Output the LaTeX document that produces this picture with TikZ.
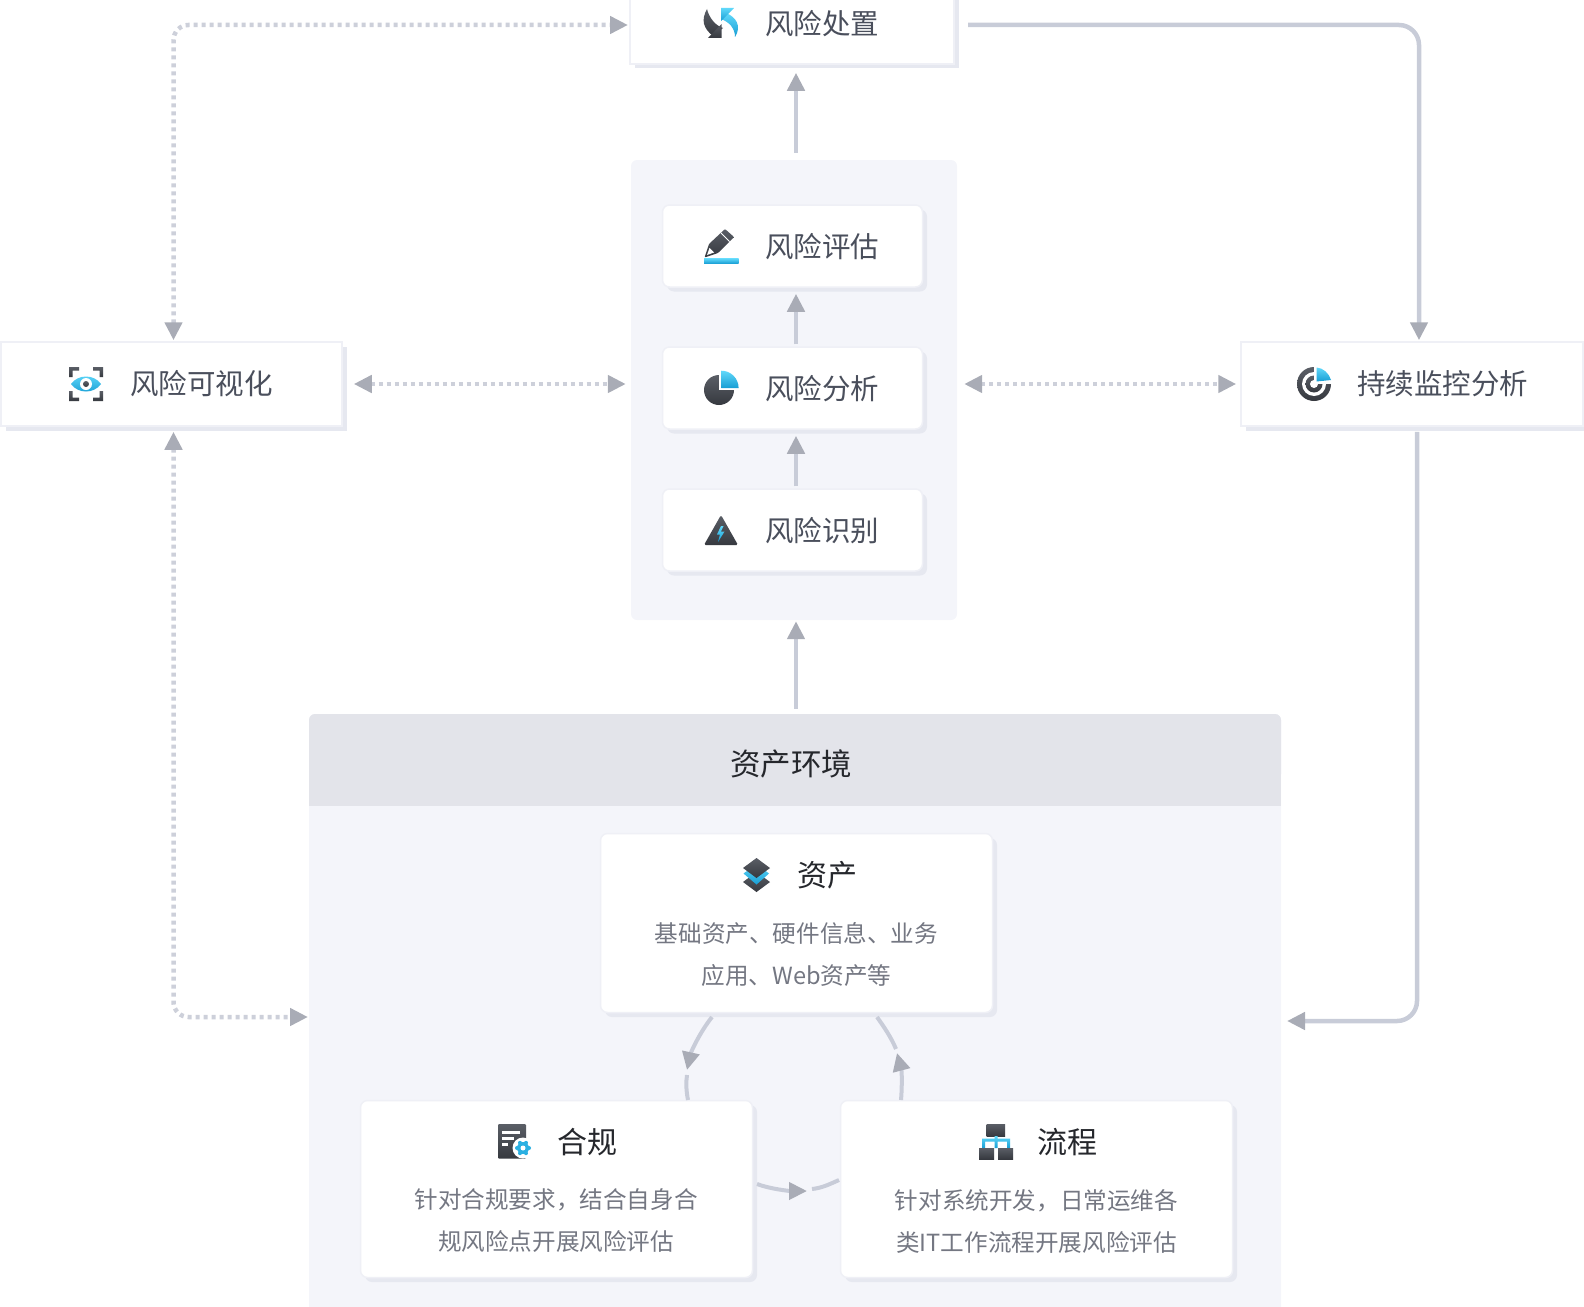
\documentclass[tikz,border=0pt]{standalone}
\usepackage{fontspec}
\setmainfont{Noto Sans CJK SC}
\usetikzlibrary{arrows.meta,shadows}

\definecolor{panelc}{HTML}{F4F5FA}
\definecolor{headerc}{HTML}{E3E4EA}
\definecolor{shadowc}{HTML}{E6E8F0}
\definecolor{edgec}{HTML}{EFF0F6}
\definecolor{linec}{HTML}{C8CCD8}
\definecolor{dotc}{HTML}{CDD0DA}
\definecolor{tipc}{HTML}{A9ACB6}
\definecolor{wordc}{HTML}{4A4F5C}
\definecolor{titlec}{HTML}{25272C}
\definecolor{descc}{HTML}{747782}
\definecolor{tipblue}{HTML}{2BB0E2}
\definecolor{dktop}{HTML}{5A5E66}
\definecolor{dkbot}{HTML}{36393F}
\definecolor{bltop}{HTML}{60D8FA}
\definecolor{blbot}{HTML}{189ED4}

\tikzset{
	headtip/.tip={Triangle[length=18pt,width=17pt,color=tipc]},
	dk/.style={top color=dktop,bottom color=dkbot,draw=none},
	bl/.style={top color=bltop,bottom color=blbot,draw=none},
	iconswap/.pic={
		\path[dk] (3,1) .. controls (-3,12) and (-1,20) .. (9,28) -- (19,20) .. controls (12,18) and (5,10) .. cycle;
		\path[dk] (4,30) -- (17.5,30) -- (17.5,16) -- cycle;
		\path[bl] (22,5) .. controls (32,9) and (38,18) .. (31,29) .. controls (31,20) and (25,14) .. (17,11) -- cycle;
		\path[bl] (17,0) -- (30,0) -- (17,13) -- cycle;
	},
	iconpen/.pic={
		\path[dk,rounded corners=1pt] (0.5,28.5) -- (5,15) -- (21,0) -- (30,8) -- (14,24) -- cycle;
		\fill[white] (3,26) -- (5.5,19) -- (10,23.5) -- cycle;
		\draw[white,line width=1pt] (17,4) -- (25.5,12.5);
		\path[bl] (0,29.5) rectangle (34.5,34.5);
	},
	iconpie/.pic={
		\path[dk] (15,19) circle[radius=15pt];
		\fill[white] (15,0) rectangle (36,19);
		\path[bl] (17.3,17) -- (17.3,-0.3) .. controls (27,-0.3) and (34.6,7.5) .. (34.6,17) -- cycle;
	},
	iconbolt/.pic={
		\path[dk,rounded corners=1.5pt] (17,0) -- (34,30) -- (0,30) -- cycle;
		\path[bl] (17,11) -- (13,19.5) -- (16,19.5) -- (14,27) -- (20.5,16.5) -- (17,16.5) -- (19.5,11) -- cycle;
	},
	iconeye/.pic={
		\foreach \sx/\dx/\sy/\dy in {0/1/0/1,34/-1/0/1,0/1/34/-1,34/-1/34/-1}
		\path[dk] (\sx,\sy) -- ++(10*\dx,0) -- ++(0,3.5*\dy) -- ++(-6.5*\dx,0) -- ++(0,6.5*\dy) -- ++(-3.5*\dx,0) -- cycle;
		\path[bl] (2,17) .. controls (9,7) and (25,7) .. (32,17) .. controls (25,27) and (9,27) .. cycle;
		\fill[white] (17,17) circle[radius=6pt];
		\path[dk] (17,17) circle[radius=3pt];
	},
	icontarget/.pic={
		\path[dk] (17,17) circle[radius=17pt];
		\fill[white] (17,17) circle[radius=12pt];
		\path[dk] (17,17) circle[radius=8.5pt];
		\fill[white] (17,17) circle[radius=4pt];
		\fill[white] (17,-1) rectangle (36,16.5);
		\path[bl] (19.5,14.5) -- (19.5,0.5) .. controls (26,1) and (32,6) .. (34,13) -- cycle;
	},
	iconlayers/.pic={
		\path[dk] (13.5,14) -- (27,24) -- (13.5,34) -- (0,24) -- cycle;
		\path[bl] (13.5,6) -- (26,15.5) -- (13.5,26.5) -- (0.5,15.5) -- cycle;
		\path[dk] (13.5,0) -- (27,10) -- (13.5,20) -- (0,10) -- cycle;
	},
	icondoc/.pic={
		\path[dk,rounded corners=1pt] (0,0) rectangle (28,34.5);
		\fill[white] (4.3,7) rectangle (22,10);
		\fill[white] (4.3,13) rectangle (16,15.5);
		\fill[white] (4.3,19) rectangle (10,21.5);
		\fill[white] (25,24) circle[radius=10.5pt];
		\foreach \ang in {0,60,...,300}
		\fill[tipblue] (25,24) ++(\ang:6pt) circle[radius=2pt];
		\fill[tipblue] (25,24) circle[radius=6pt];
		\fill[white] (25,24) circle[radius=2.5pt];
	},
	icontree/.pic={
		\path[dk] (7.7,0) rectangle (26,12.5);
		\path[bl] (15.5,12) rectangle (18.5,24) (3,14.5) rectangle (31,17.5) (3,14.5) rectangle (6,24) (28,14.5) rectangle (31,24);
		\path[dk] (0,24) rectangle (15,35);
		\path[dk] (19,24) rectangle (34,35);
	},
}

\begin{document}
\begin{tikzpicture}
	[x=1pt,y=-1pt,
	every node/.style={inner sep=0pt},
	panel/.style={fill=panelc,rounded corners=6pt},
	gate/.style={fill=white,draw=edgec,line width=1.5pt,drop shadow={shadow xshift=4.5pt,shadow yshift=-4.5pt,fill=shadowc,opacity=1}},
	card/.style={gate,rounded corners=7pt},
	word/.style={text=wordc,font=\fontsize{28.5}{30}\selectfont},
	title/.style={text=titlec,font=\fontsize{30}{32}\selectfont},
	desc/.style={text=descc,align=center,font=\fontsize{23.6}{42}\selectfont},
	flow/.style={line width=4.5pt,draw=linec,-{headtip}},
	bare/.style={line width=4pt,draw=linec},
	arcflow/.style={line width=4pt,draw=linec,shorten >=-3pt,-{headtip[sep=3pt]}},
	dots/.style={line width=4.5pt,draw=dotc,dash pattern=on 4pt off 4pt,{headtip}-{headtip}}]
	\clip (0,0) rectangle (1584,1306);

	% panels
	\node[panel,minimum width=326pt,minimum height=460pt] (riskpanel) at (794,390) {};
	\node[panel,minimum width=972pt,minimum height=640pt] (envpanel) at (795,1034) {};
	\fill[headerc,rounded corners=6pt] (309,714) rectangle (1281,780);
	\fill[headerc] (309,740) rectangle (1281,806);
	\node[text=titlec,font=\fontsize{30.5}{32}\selectfont] (envtitle) at (791,764) {资产环境};

	% outer boxes
	\node[gate,minimum width=324pt,minimum height=94pt] (treat) at (792,17) {};
	\node[gate,minimum width=341pt,minimum height=84pt] (visual) at (171.5,384) {};
	\node[gate,minimum width=342pt,minimum height=84pt] (monitor) at (1412,384) {};
	\node[word] (treatw) at (822,24) {风险处置};
	\node[word] (visualw) at (201.5,384) {风险可视化};
	\node[word] (monitorw) at (1442.5,384) {持续监控分析};

	% risk cards
	\foreach \name/\y/\txt in {assess/246/风险评估,analyse/388/风险分析,identify/530/风险识别}{
		\node[card,minimum width=260pt,minimum height=82pt] (\name) at (792.5,\y) {};
		\node[word] (\name w) at (822,{\y+1}) {\txt};
	}

	% asset cards
	\node[card,minimum width=392pt,minimum height=179pt] (asset) at (796.5,923) {};
	\node[card,minimum width=392pt,minimum height=177pt] (comply) at (556.5,1189) {};
	\node[card,minimum width=392pt,minimum height=177pt] (process) at (1036.5,1189) {};
	\node[title] (assett) at (827,875) {资产};
	\node[title] (complyt) at (587,1142) {合规};
	\node[title] (processt) at (1067.5,1142) {流程};
	\node[desc] (assetd) at (796.5,954.5) {基础资产、硬件信息、业务\\应用、Web资产等};
	\node[desc] (complyd) at (556,1221) {针对合规要求，结合自身合\\规风险点开展风险评估};
	\node[desc] (processd) at (1036.5,1221) {针对系统开发，日常运维各\\类IT工作流程开展风险评估};

	% icons
	\pic at (704,8) {iconswap};
	\pic at (704,229) {iconpen};
	\pic at (704,371) {iconpie};
	\pic at (704,515) {iconbolt};
	\pic at (69,367) {iconeye};
	\pic at (1297,367) {icontarget};
	\pic at (743,858) {iconlayers};
	\pic at (498,1124) {icondoc};
	\pic at (979,1124) {icontree};

	% anchors for the connectors
	\coordinate (axis) at (796,0);
	\coordinate (leftx) at (173.5,0);
	\coordinate (rightx) at (1419,0);
	\coordinate (downx) at (1417,0);
	\coordinate (treatin) at (630,25);
	\coordinate (treatout) at (968,25);
	\coordinate (envin) at (309,1017);
	\coordinate (envout) at (1281,1021);
	\coordinate (la) at (712,1017);
	\coordinate (lb) at (687,1070);
	\coordinate (lc) at (687,1075);
	\coordinate (ld) at (688,1100);
	\coordinate (ra) at (877,1017);
	\coordinate (rb) at (896,1049);
	\coordinate (rc) at (897,1053);
	\coordinate (rd) at (901,1100);
	\coordinate (ba) at (757,1184);
	\coordinate (bb) at (807,1191);
	\coordinate (bc) at (812,1189);
	\coordinate (bd) at (839,1180);

	% vertical flow
	\foreach \from/\to in {identify/analyse,analyse/assess}
	\draw[flow,shorten <=2pt,shorten >=6pt] (\from.north -| axis) -- (\to.south -| axis);
	\draw[flow,shorten <=7pt,shorten >=8pt] (riskpanel.north -| axis) -- (treat.south -| axis);
	\draw[flow,shorten <=5pt,shorten >=1pt] (envpanel.north -| axis) -- (riskpanel.south -| axis);

	% dotted links
	\draw[dots,shorten <=11pt,shorten >=5pt] (visual.east) -- (visual.east -| riskpanel.west);
	\draw[dots,shorten <=7pt,shorten >=4pt] (monitor.west -| riskpanel.east) -- (monitor.west);
	\draw[dots,rounded corners=15pt,shorten <=1pt,shorten >=2pt] (visual.north -| leftx) |- (treatin);
	\draw[dots,rounded corners=15pt,shorten <=5pt,shorten >=1pt] (visual.south -| leftx) |- (envin);

	% solid return links
	\draw[flow,rounded corners=20pt,shorten >=1pt] (treatout) -| (monitor.north -| rightx);
	\draw[flow,rounded corners=20pt,shorten <=5pt,shorten >=6pt] (monitor.south -| downx) |- (envout);

	% ring
	\draw[arcflow] (la) .. controls (700,1032) and (691,1052) .. (lb);
	\draw[bare] (lc) .. controls (686,1082) and (686,1090) .. (ld);
	\draw[arcflow] (rd) .. controls (902,1090) and (902,1072) .. (rc);
	\draw[bare] (rb) .. controls (891,1037) and (884,1027) .. (ra);
	\draw[arcflow] (ba) .. controls (770,1189) and (790,1191) .. (bb);
	\draw[bare] (bc) .. controls (822,1188) and (830,1184) .. (bd);
\end{tikzpicture}
\end{document}
